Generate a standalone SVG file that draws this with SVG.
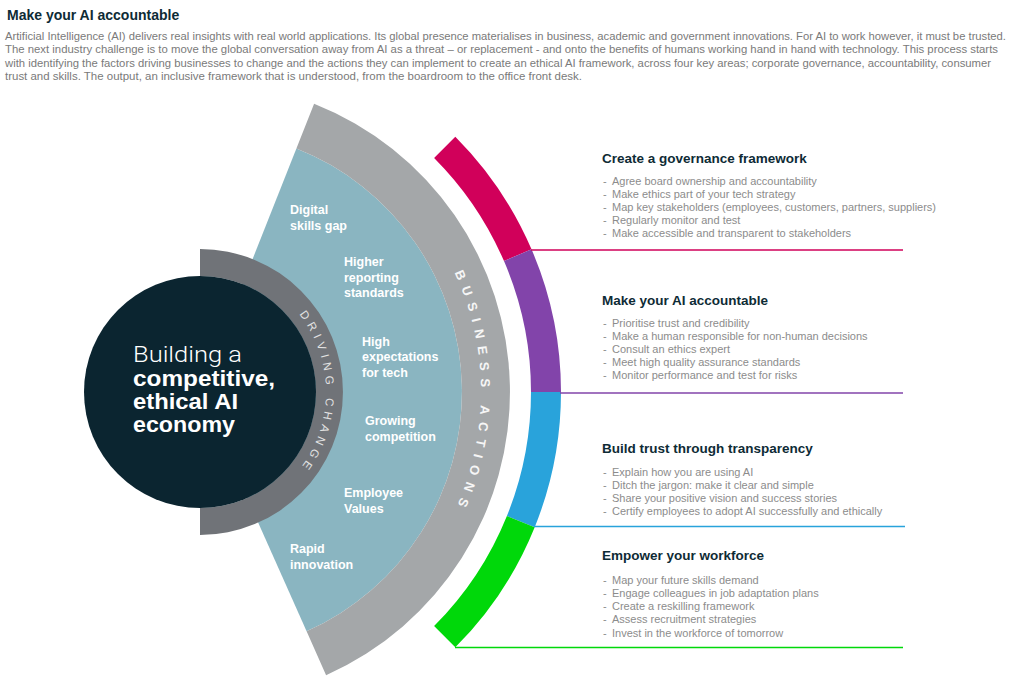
<svg xmlns="http://www.w3.org/2000/svg" width="1021" height="686" viewBox="0 0 1021 686">
<style>
  .h1{font-family:"Liberation Sans",Arial,sans-serif;font-weight:bold;font-size:14px;fill:#0e2b35}
  .para{font-family:"Liberation Sans",Arial,sans-serif;font-size:11px;fill:#7a7a7a}
  .hd{font-family:"Liberation Sans",Arial,sans-serif;font-weight:bold;font-size:13.5px;fill:#0e2b35}
  .bl{font-family:"Liberation Sans",Arial,sans-serif;font-size:11px;fill:#8c8c8c}
  .lab{font-family:"Liberation Sans",Arial,sans-serif;font-weight:bold;font-size:12.5px;fill:#ffffff}
  .big{font-family:"Liberation Sans",Arial,sans-serif;font-weight:bold;font-size:22.5px;fill:#ffffff}
  .light{font-family:Roboto,"Liberation Sans",sans-serif;font-weight:300;font-size:22.5px;fill:#ffffff}
  .ring1{font-family:"Liberation Sans",Arial,sans-serif;font-size:11.5px;fill:#e2e2e2;letter-spacing:4.8px}
  .ring2{font-family:"Liberation Sans",Arial,sans-serif;font-weight:bold;font-size:13px;fill:#f6f6f6;letter-spacing:7.4px}
  .conn{stroke-width:1.6;fill:none}
</style>
<defs>
  <path id="pDriving" d="M200,266 A126,126 0 0 1 200,518"/>
  <path id="pBusiness" d="M200,111 A281,281 0 0 1 200,673"/>
</defs>
<rect width="1021" height="686" fill="#ffffff"/>

<g id="heading">
  <text class="h1" x="7" y="20">Make your AI accountable</text>
</g>
<g id="intro">
  <text class="para" x="5" y="39.5" textLength="1001" lengthAdjust="spacingAndGlyphs">Artificial Intelligence (AI) delivers real insights with real world applications. Its global presence materialises in business, academic and government innovations. For AI to work however, it must be trusted.</text>
  <text class="para" x="5" y="53" textLength="993" lengthAdjust="spacingAndGlyphs">The next industry challenge is to move the global conversation away from AI as a threat – or replacement - and onto the benefits of humans working hand in hand with technology. This process starts</text>
  <text class="para" x="5" y="66.5" textLength="986" lengthAdjust="spacingAndGlyphs">with identifying the factors driving businesses to change and the actions they can implement to create an ethical AI framework, across four key areas; corporate governance, accountability, consumer</text>
  <text class="para" x="5" y="80" textLength="577" lengthAdjust="spacingAndGlyphs">trust and skills. The output, an inclusive framework that is understood, from the boardroom to the office front desk.</text>
</g>

<g id="drivers-sector">
  <path d="M200,392 L296.4,148.4 A262,262 0 0 1 306.6,631.3 Z" fill="#8ab5c1"/>
</g>

<g id="business-actions">
  <path d="M314.1,103.8 A310,310 0 0 1 326.1,675.2 L306.6,631.3 A262,262 0 0 0 296.4,148.4 Z" fill="#a4a7a9"/>
  <text class="ring2"><textPath href="#pBusiness" startOffset="50%" text-anchor="middle">BUSINESS ACTIONS</textPath></text>
</g>

<g id="driving-change">
  <path d="M200,249 A143,143 0 0 1 200,535 L200,508 A116,116 0 0 0 200,276 Z" fill="#707378"/>
  <text class="ring1"><textPath href="#pDriving" startOffset="50%" text-anchor="middle">DRIVING CHANGE</textPath></text>
</g>

<g id="core">
  <circle cx="200" cy="392" r="116" fill="#0b2530"/>
  <text class="light" x="133" y="362" textLength="109" lengthAdjust="spacingAndGlyphs">Building a</text>
  <text class="big" x="133" y="386" textLength="142" lengthAdjust="spacingAndGlyphs">competitive,</text>
  <text class="big" x="133" y="409" textLength="105" lengthAdjust="spacingAndGlyphs">ethical AI</text>
  <text class="big" x="133" y="432" textLength="102" lengthAdjust="spacingAndGlyphs">economy</text>
</g>

<g id="driver-digital-skills"><text class="lab" x="290" y="214">Digital</text><text class="lab" x="290" y="230">skills gap</text></g>
<g id="driver-reporting"><text class="lab" x="344" y="266">Higher</text><text class="lab" x="344" y="282">reporting</text><text class="lab" x="344" y="297">standards</text></g>
<g id="driver-expectations"><text class="lab" x="362" y="346">High</text><text class="lab" x="362" y="361">expectations</text><text class="lab" x="362" y="377">for tech</text></g>
<g id="driver-competition"><text class="lab" x="365" y="425">Growing</text><text class="lab" x="365" y="441">competition</text></g>
<g id="driver-values"><text class="lab" x="344" y="497">Employee</text><text class="lab" x="344" y="513">Values</text></g>
<g id="driver-innovation"><text class="lab" x="290" y="553">Rapid</text><text class="lab" x="290" y="569">innovation</text></g>

<g id="seg-governance"><path d="M455.3,136.7 A361,361 0 0 1 531.5,249.2 L504.0,261.1 A331,331 0 0 0 434.1,157.9 Z" fill="#d1005a"/></g>
<g id="seg-accountable"><path d="M531.5,249.2 A361,361 0 0 1 561,392 L531,392 A331,331 0 0 0 504.0,261.1 Z" fill="#8244aa"/></g>
<g id="seg-transparency"><path d="M561,392 A361,361 0 0 1 534.7,527.2 L506.9,516.0 A331,331 0 0 0 531,392 Z" fill="#29a3db"/></g>
<g id="seg-workforce"><path d="M534.7,527.2 A361,361 0 0 1 455.3,647.3 L434.1,626.1 A331,331 0 0 0 506.9,516.0 Z" fill="#00d80a"/></g>

<g id="connectors">
  <line class="conn" x1="531" y1="250" x2="903" y2="250" stroke="#d1005a"/>
  <line class="conn" x1="560" y1="393" x2="903" y2="393" stroke="#8244aa"/>
  <line class="conn" x1="534" y1="526.5" x2="905" y2="526.5" stroke="#29a3db"/>
  <line class="conn" x1="455" y1="647.5" x2="903" y2="647.5" stroke="#00d80a"/>
</g>

<g id="block-governance">
  <text class="hd" x="602" y="163">Create a governance framework</text>
  <text class="bl" x="603" y="185">-</text><text class="bl" x="612" y="185">Agree board ownership and accountability</text>
  <text class="bl" x="603" y="198">-</text><text class="bl" x="612" y="198">Make ethics part of your tech strategy</text>
  <text class="bl" x="603" y="211">-</text><text class="bl" x="612" y="211">Map key stakeholders (employees, customers, partners, suppliers)</text>
  <text class="bl" x="603" y="224">-</text><text class="bl" x="612" y="224">Regularly monitor and test</text>
  <text class="bl" x="603" y="237">-</text><text class="bl" x="612" y="237">Make accessible and transparent to stakeholders</text>
</g>
<g id="block-accountable">
  <text class="hd" x="602" y="305">Make your AI accountable</text>
  <text class="bl" x="603" y="327">-</text><text class="bl" x="612" y="327">Prioritise trust and credibility</text>
  <text class="bl" x="603" y="340">-</text><text class="bl" x="612" y="340">Make a human responsible for non-human decisions</text>
  <text class="bl" x="603" y="353">-</text><text class="bl" x="612" y="353">Consult an ethics expert</text>
  <text class="bl" x="603" y="366">-</text><text class="bl" x="612" y="366">Meet high quality assurance standards</text>
  <text class="bl" x="603" y="379">-</text><text class="bl" x="612" y="379">Monitor performance and test for risks</text>
</g>
<g id="block-transparency">
  <text class="hd" x="602" y="453">Build trust through transparency</text>
  <text class="bl" x="603" y="476">-</text><text class="bl" x="612" y="476">Explain how you are using AI</text>
  <text class="bl" x="603" y="489">-</text><text class="bl" x="612" y="489">Ditch the jargon: make it clear and simple</text>
  <text class="bl" x="603" y="502">-</text><text class="bl" x="612" y="502">Share your positive vision and success stories</text>
  <text class="bl" x="603" y="515">-</text><text class="bl" x="612" y="515">Certify employees to adopt AI successfully and ethically</text>
</g>
<g id="block-workforce">
  <text class="hd" x="602" y="560">Empower your workforce</text>
  <text class="bl" x="603" y="584">-</text><text class="bl" x="612" y="584">Map your future skills demand</text>
  <text class="bl" x="603" y="597">-</text><text class="bl" x="612" y="597">Engage colleagues in job adaptation plans</text>
  <text class="bl" x="603" y="610">-</text><text class="bl" x="612" y="610">Create a reskilling framework</text>
  <text class="bl" x="603" y="623">-</text><text class="bl" x="612" y="623">Assess recruitment strategies</text>
  <text class="bl" x="603" y="637">-</text><text class="bl" x="612" y="637">Invest in the workforce of tomorrow</text>
</g>
</svg>
